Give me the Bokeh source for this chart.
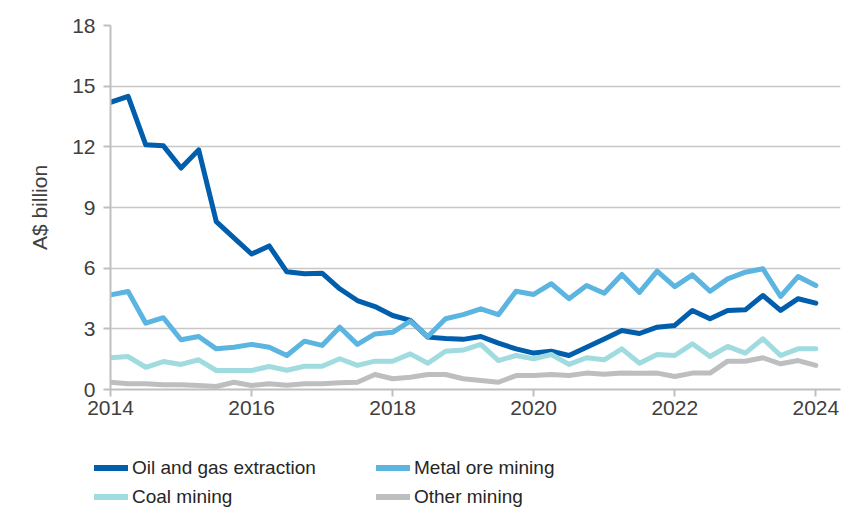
from bokeh.plotting import figure
from bokeh.layouts import column, row
from bokeh.models import Range1d, FixedTicker, Legend, LegendItem
from bokeh.embed import file_html
from bokeh.resources import INLINE

# Quarterly observations, March 2014 to March 2024 (A$ billion)
quarters = [2014 + q / 4 for q in range(41)]

oil_gas = [14.2, 14.5, 12.1, 12.05, 10.95, 11.85, 8.3, 7.5, 6.7, 7.1,
           5.82, 5.72, 5.75, 4.98, 4.4, 4.1, 3.66, 3.42, 2.59, 2.52,
           2.48, 2.62, 2.29, 2.01, 1.8, 1.89, 1.68, 2.09, 2.5, 2.92,
           2.77, 3.08, 3.17, 3.91, 3.5, 3.91, 3.94, 4.65, 3.91, 4.49, 4.27]

metal_ore = [4.68, 4.85, 3.28, 3.55, 2.46, 2.62, 2.01, 2.09, 2.23, 2.09,
             1.68, 2.39, 2.18, 3.08, 2.23, 2.75, 2.83, 3.38, 2.62, 3.5,
             3.7, 3.99, 3.7, 4.86, 4.7, 5.23, 4.49, 5.14, 4.76, 5.69,
             4.8, 5.85, 5.09, 5.67, 4.86, 5.47, 5.8, 5.97, 4.6, 5.59, 5.14]

coal = [1.57, 1.63, 1.1, 1.38, 1.24, 1.47, 0.94, 0.94, 0.94, 1.14,
        0.95, 1.15, 1.15, 1.52, 1.19, 1.4, 1.4, 1.76, 1.3, 1.89,
        1.95, 2.23, 1.43, 1.68, 1.52, 1.73, 1.24, 1.57, 1.47, 2.01,
        1.3, 1.73, 1.68, 2.26, 1.63, 2.13, 1.8, 2.51, 1.68, 2.01, 2.01]

other = [0.36, 0.28, 0.28, 0.23, 0.23, 0.2, 0.15, 0.36, 0.2, 0.28,
         0.21, 0.28, 0.28, 0.33, 0.36, 0.74, 0.53, 0.61, 0.74, 0.74,
         0.53, 0.45, 0.36, 0.69, 0.69, 0.74, 0.69, 0.81, 0.76, 0.81,
         0.8, 0.81, 0.64, 0.81, 0.81, 1.4, 1.4, 1.57, 1.27, 1.43, 1.19]

series_names = ["Oil and gas extraction", "Metal ore mining", "Coal mining", "Other mining"]
series_values = [oil_gas, metal_ore, coal, other]
series_colors = ["#005EAC", "#5BB5E0", "#A0DBE0", "#BCBEC0"]

year_ticks = [2014, 2016, 2018, 2020, 2022, 2024]
value_ticks = [0, 3, 6, 9, 12, 15, 18]

FONT = "Liberation Sans"
TEXT = "#404040"
AXIS = "#BFBFBF"

# Main chart
p = figure(width=856, height=450, output_backend="svg", toolbar_location=None,
           x_range=Range1d(2014, 2024.35), y_range=Range1d(0, 18),
           min_border_left=110, min_border_right=16,
           min_border_top=25, min_border_bottom=61)
p.outline_line_color = None

p.xgrid.grid_line_color = None
p.ygrid.grid_line_color = "#C8C8C8"
p.ygrid.grid_line_width = 1.5
p.ygrid.ticker = FixedTicker(ticks=value_ticks)

for ax in (p.xaxis[0], p.yaxis[0]):
    ax.axis_line_color = AXIS
    ax.axis_line_width = 2
    ax.major_tick_line_color = AXIS
    ax.major_tick_line_width = 2
    ax.major_tick_out = 7
    ax.major_tick_in = 0
    ax.minor_tick_line_color = None
    ax.major_label_text_font = FONT
    ax.major_label_text_font_size = "21px"
    ax.major_label_text_color = TEXT

p.xaxis[0].ticker = FixedTicker(ticks=year_ticks)
p.xaxis[0].major_label_standoff = 4
p.yaxis[0].ticker = FixedTicker(ticks=value_ticks)
p.yaxis[0].major_label_standoff = 8
p.yaxis[0].axis_label = "A$ billion"
p.yaxis[0].axis_label_text_font = FONT
p.yaxis[0].axis_label_text_font_size = "21px"
p.yaxis[0].axis_label_text_font_style = "normal"
p.yaxis[0].axis_label_text_color = TEXT
p.yaxis[0].axis_label_standoff = 18

for vals, color in zip(series_values, series_colors):
    p.line(quarters, vals, line_color=color, line_width=5,
           line_join="round", line_cap="round")

# Legend strip underneath: one key line per series, same styles as above
key = figure(width=856, height=62, output_backend="svg", toolbar_location=None,
             x_range=Range1d(0, 1), y_range=Range1d(0, 1),
             x_axis_location=None, y_axis_location=None,
             min_border=0, outline_line_color=None)
key.grid.visible = False

swatches = {}
for name, color in zip(series_names, series_colors):
    swatches[name] = key.line(x=[float("nan")], y=[float("nan")],
                              line_color=color, line_width=6, line_cap="round")

# two rows: Oil / Metal on top, Coal / Other beneath (legend fills column-wise)
legend_order = ["Oil and gas extraction", "Coal mining", "Metal ore mining", "Other mining"]
items = [LegendItem(label=n, renderers=[swatches[n]]) for n in legend_order]

legend = Legend(items=items, ncols=2, location=(94, 3),
                label_text_font=FONT,
                label_text_font_size="19px", label_text_color="#262626",
                glyph_width=34, glyph_height=25, label_height=25,
                label_width=240, label_standoff=4, spacing=4,
                padding=0, margin=0, border_line_color=None,
                background_fill_alpha=0)
key.add_layout(legend, "center")

# the strip sits in its own row so its frame keeps the full width
layout = column(p, row(key, spacing=0), spacing=0)
open("out.html", "w").write(file_html(layout, INLINE))
